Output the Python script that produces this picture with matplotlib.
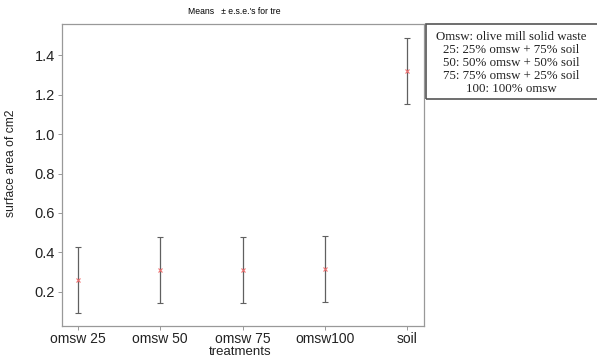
import matplotlib.pyplot as plt
from matplotlib.patches import Rectangle

# --------------------------------------------------------------
# Data
# --------------------------------------------------------------

treatments = ["omsw 25", "omsw 50", "omsw 75", "omsw100", "soil"]
means = [0.261, 0.310, 0.310, 0.316, 1.319]
upper = [0.425, 0.478, 0.478, 0.481, 1.485]
lower = [0.092, 0.144, 0.144, 0.151, 1.154]

legend_lines = [
    "Omsw: olive mill solid waste",
    "25: 25% omsw + 75% soil",
    "50: 50% omsw + 50% soil",
    "75: 75% omsw + 25% soil",
    "100: 100% omsw",
]

# --------------------------------------------------------------
# Plot
# --------------------------------------------------------------

fig = plt.figure(figsize=(5.97, 3.6), dpi=100)
W, H = 597, 360
ax = fig.add_axes([62 / W, 1 - 326 / H, (424 - 62) / W, (326 - 24) / H])

x = list(range(1, len(treatments) + 1))
err_low = [m - l for m, l in zip(means, lower)]
err_up = [u - m for u, m in zip(upper, means)]
ax.errorbar(x, means, yerr=[err_low, err_up], fmt="none", ecolor="#606060",
            elinewidth=0.9, capsize=2.2, capthick=0.8)
ax.plot(x, means, "x", color="#f07070", markersize=3.5, markeredgewidth=0.8)

ax.set_xlim(0.805, 5.207)
ax.set_ylim(0.027, 1.558)
ax.set_xticks(x)
ax.set_xticklabels(treatments, fontsize=10, family="Liberation Sans", color="#222222")
ax.set_yticks([0.2, 0.4, 0.6, 0.8, 1.0, 1.2, 1.4])
ax.set_yticklabels(["0.2", "0.4", "0.6", "0.8", "1.0", "1.2", "1.4"],
                   fontsize=10.5, family="Liberation Sans", color="#222222")
ax.tick_params(length=3, width=0.6, color="#888888", pad=2)
ax.tick_params(axis="x", pad=1.5)
for s in ax.spines.values():
    s.set_color("#999999")
    s.set_linewidth(0.9)

ax.set_xlabel("treatments", fontsize=9.5, family="Liberation Sans", color="#222222")
ax.xaxis.set_label_coords((240 - 62) / (424 - 62), -(346 - 326) / (326 - 24))
ax.set_ylabel("surface area of cm2", fontsize=8.7, family="Liberation Sans", color="#222222")
ax.yaxis.set_label_coords((17 - 62) / (424 - 62), 0.54)

fig.text(234 / W, 1 - 12 / H, "Means   \u00b1 e.s.e.'s for tre", fontsize=6.2,
         family="Liberation Sans", ha="center", va="center")

# legend box
fig.patches.append(Rectangle((426 / W, 1 - 99 / H), 200 / W, 75 / H,
                             transform=fig.transFigure, fill=False,
                             edgecolor="#555555", linewidth=1.2))
for i, line in enumerate(legend_lines):
    fig.text(511 / W, 1 - (37 + 13 * i) / H, line, fontsize=9.3,
             family="Liberation Serif", ha="center", va="center", color="#222222")

plt.savefig("out.png", dpi=100)
